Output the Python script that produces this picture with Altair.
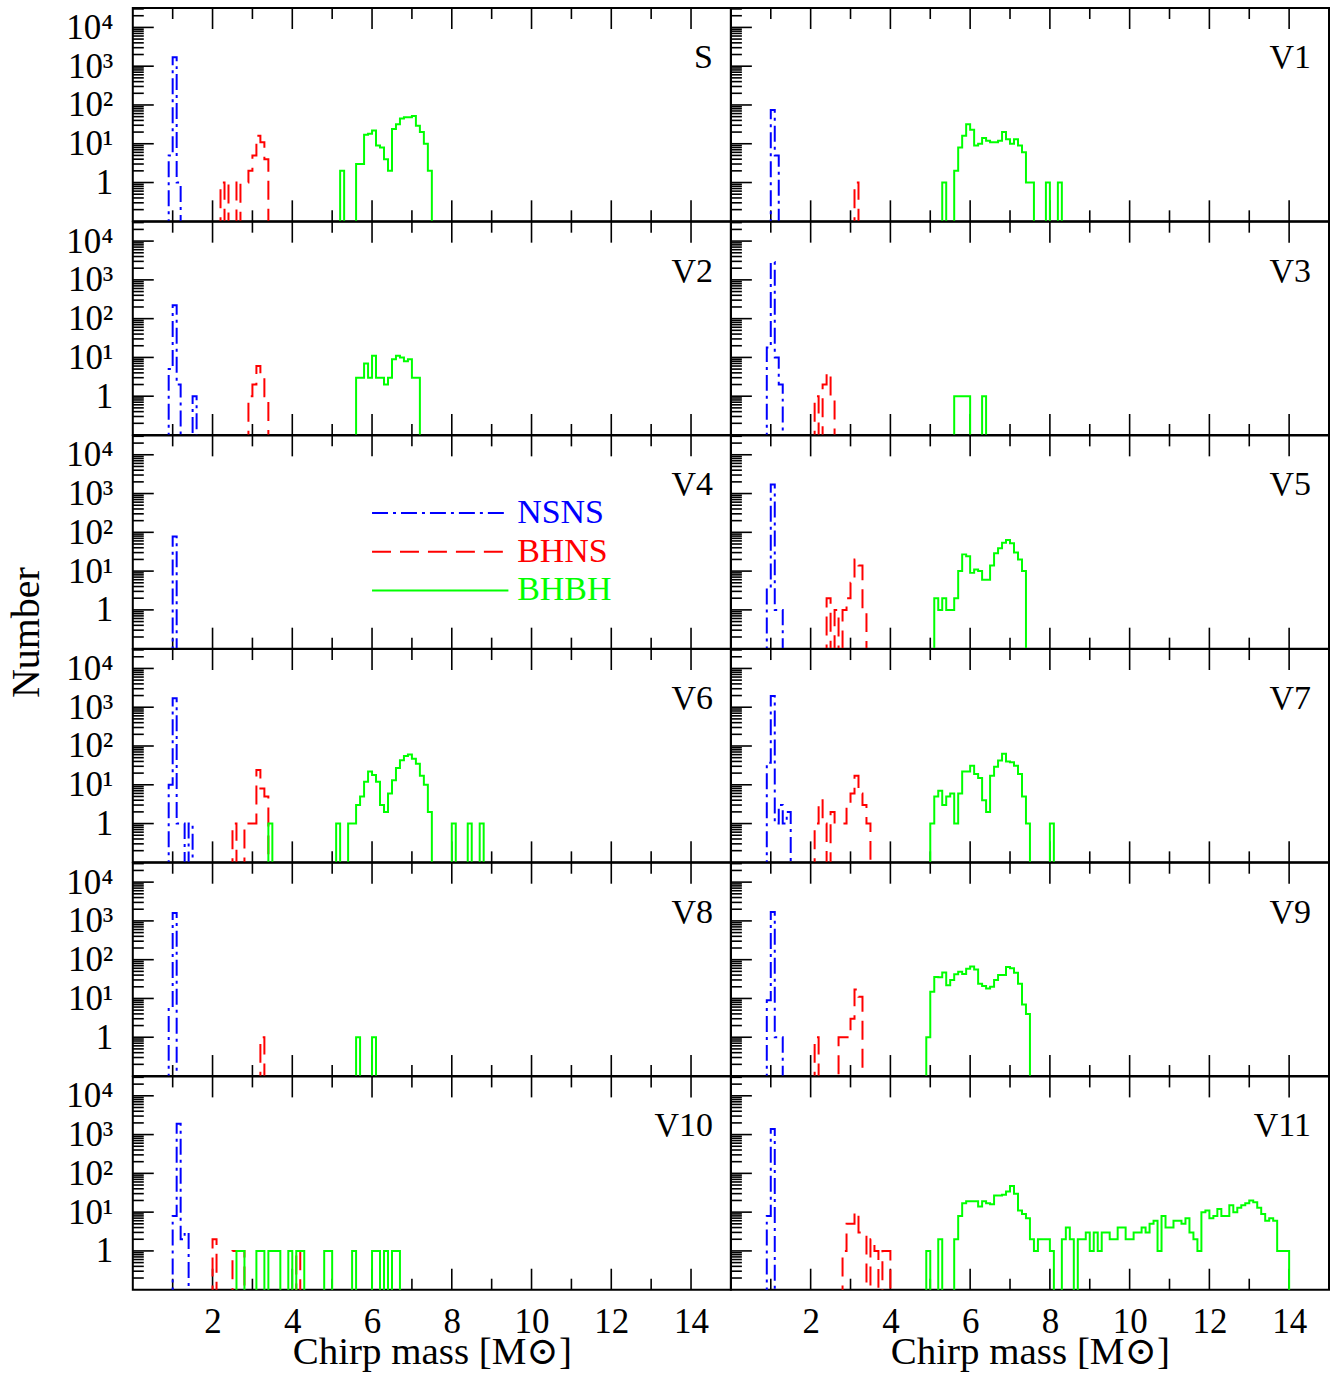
import altair as alt
import pandas as pd

# ---------------- data (bin width 0.1 Msun; each entry = (left edge of first bin, counts)) ----------------
PANELS = ["S", "V1", "V2", "V3", "V4", "V5", "V6", "V7", "V8", "V9", "V10", "V11"]
TYPES = ["NSNS", "BHNS", "BHBH"]
COLORS = ["#0000ff", "#ff0000", "#00ff00"]

S_NSNS = [(0.9, [5, 1700, 1])]
S_BHNS = [(2.2, [1, 0, 1, 1, 0, 1, 1, 2, 5, 16, 11, 4])]
S_BHBH = [(5.2, [2]), (5.6, [3, 3, 17, 18, 22, 9, 8, 4, 2, 24, 32, 45, 48, 48, 52, 29, 20, 10, 2])]

V1_NSNS = [(1.0, [74, 5])]
V1_BHNS = [(3.1, [1])]
V1_BHBH = [(5.3, [1]), (5.6, [2, 8, 16, 32, 23, 9, 10, 14, 12, 11, 11, 12, 20, 13, 10, 13, 9, 6, 1, 1]),
           (7.9, [1]), (8.2, [1])]

V2_NSNS = [(0.9, [5, 220, 2]), (1.5, [1])]
V2_BHNS = [(2.9, [1, 2, 6, 3, 1])]
V2_BHBH = [(5.6, [3, 3, 7, 3, 11, 3, 3, 2, 3, 9, 11, 10, 8, 9, 3, 3])]

V3_NSNS = [(0.9, [18, 2900, 10, 2])]
V3_BHNS = [(2.1, [1, 0, 2, 4, 1])]
V3_BHBH = [(5.6, [1, 1, 1, 1]), (6.3, [1])]

V4_NSNS = [(1.0, [78])]
V4_BHNS = []
V4_BHBH = []

V5_NSNS = [(0.9, [4, 1700, 1, 1])]
V5_BHNS = [(2.4, [2, 0, 1, 0, 1, 2, 5, 20, 14, 1])]
V5_BHBH = [(5.1, [2, 1, 2, 1, 1, 2, 10, 27, 24, 9, 11, 10, 6, 6, 14, 29, 39, 54, 63, 52, 30, 20, 10])]

V6_NSNS = [(0.9, [10, 1700, 1, 1, 0, 1])]
V6_BHNS = [(2.5, [1, 0, 0, 1, 1, 1, 24, 8, 5])]
V6_BHBH = [(3.4, [1]), (5.1, [1]),
           (5.4, [1, 1, 3, 5, 12, 22, 18, 12, 3, 2, 6, 13, 27, 43, 55, 60, 47, 35, 17, 10, 2]),
           (8.0, [1]), (8.4, [1]), (8.7, [1])]

V7_NSNS = [(0.9, [37, 1950, 1, 3, 1, 2])]
V7_BHNS = [(2.1, [1, 4, 1, 0, 2, 1, 1, 1, 3, 6, 17, 6, 3, 1])]
V7_BHBH = [(5.0, [1, 5, 7, 3, 5, 6, 1, 6, 22, 22, 31, 19, 15, 4, 2, 17, 29, 42, 63, 40, 38, 31, 19, 5, 1]),
           (8.0, [1])]

V8_NSNS = [(0.9, [6, 1600])]
V8_BHNS = [(3.2, [1])]
V8_BHBH = [(5.6, [1]), (6.0, [1])]

V9_NSNS = [(0.9, [9, 1700, 1, 1])]
V9_BHNS = [(2.1, [1]), (2.7, [1, 1, 1, 3, 17, 11])]
V9_BHBH = [(4.9, [1, 15, 36, 35, 47, 22, 30, 42, 49, 43, 58, 67, 56, 24, 21, 18, 20, 30, 40, 40,
                  65, 60, 46, 24, 7, 4])]

V10_NSNS = [(1.0, [8, 1900, 2, 3])]
V10_BHNS = [(2.0, [2]), (2.5, [1, 1, 1]), (4.1, [1])]
V10_BHBH = [(2.6, [1, 1]), (3.1, [1, 1]), (3.4, [1, 1, 1]), (3.9, [1]), (4.1, [1, 1]), (4.8, [1, 1]),
            (5.5, [1]), (6.0, [1, 1, 0, 1, 0, 1, 1])]

V11_NSNS = [(0.9, [8, 1400])]
V11_BHNS = [(2.8, [1, 5, 5, 10, 3, 3, 0, 2, 1, 0, 1, 1])]
V11_BHBH = [(4.9, [1]), (5.2, [2]),
            (5.6, [2, 8, 17, 19, 19, 19, 14, 19, 17, 16, 27, 27, 28, 34, 47, 30, 11, 9, 7, 2, 1, 2, 2, 2, 1]),
            (8.3, [2, 4, 2, 0, 2, 2, 3, 1, 3, 1, 3, 3, 2, 2, 4, 4, 2, 2, 3, 3, 4, 3, 5, 6, 1, 8, 4, 4, 6, 6,
                   5, 7, 3, 2, 1, 10, 11, 7, 8, 12, 8, 8, 15, 10, 13, 15, 17, 20, 18, 13, 9, 6, 7, 6, 1, 1, 1])]

SERIES = {
    "S": (S_NSNS, S_BHNS, S_BHBH), "V1": (V1_NSNS, V1_BHNS, V1_BHBH),
    "V2": (V2_NSNS, V2_BHNS, V2_BHBH), "V3": (V3_NSNS, V3_BHNS, V3_BHBH),
    "V4": (V4_NSNS, V4_BHNS, V4_BHBH), "V5": (V5_NSNS, V5_BHNS, V5_BHBH),
    "V6": (V6_NSNS, V6_BHNS, V6_BHBH), "V7": (V7_NSNS, V7_BHNS, V7_BHBH),
    "V8": (V8_NSNS, V8_BHNS, V8_BHBH), "V9": (V9_NSNS, V9_BHNS, V9_BHBH),
    "V10": (V10_NSNS, V10_BHNS, V10_BHBH), "V11": (V11_NSNS, V11_BHNS, V11_BHBH),
}

# axis tick values
X_MAJOR = [2, 4, 6, 8, 10, 12, 14]
X_MINOR = [1, 3, 5, 7, 9, 11, 13]
Y_MAJOR = [1, 10, 100, 1000, 10000]
Y_MINOR = [0.2, 0.3, 0.4, 0.5, 0.6, 0.7, 0.8, 0.9,
           2, 3, 4, 5, 6, 7, 8, 9,
           20, 30, 40, 50, 60, 70, 80, 90,
           200, 300, 400, 500, 600, 700, 800, 900,
           2000, 3000, 4000, 5000, 6000, 7000, 8000, 9000,
           20000, 30000]

# ---------------- styling ----------------
FONT = "Liberation Serif, DejaVu Serif"
W, H = 599, 213.6
MAJ, MIN = 21, 11
DASHES = [[16, 5, 3, 5], [19, 9], [1, 0]]

xs = alt.Scale(domain=[0, 15], nice=False, zero=False)
ys = alt.Scale(type="log", domain=[0.1, 31622.78], nice=False)
cscale = alt.Scale(domain=TYPES, range=COLORS)
dscale = alt.Scale(domain=TYPES, range=DASHES)

YLABEL = ("datum.value == 1 ? '1' : datum.value == 10 ? '10\u00b9' : datum.value == 100 ? '10\u00b2' : "
          "datum.value == 1000 ? '10\u00b3' : '10\u2074'")


def series_rows(typ, segments):
    bins = {}
    for start, counts in segments:
        k = int(round(start * 10))
        for i, c in enumerate(counts):
            bins[k + i] = c
    if not bins:
        return []
    k0, k1 = min(bins), max(bins)
    rows = [dict(type=typ, x=(k0 - 1) / 10, n=0)]
    for k in range(k0, k1 + 1):
        rows.append(dict(type=typ, x=k / 10, n=bins.get(k, 0)))
    rows.append(dict(type=typ, x=(k1 + 1) / 10, n=0))
    return rows


def panel_chart(i, name):
    left = i % 2 == 0
    bottom = i // 2 == 5

    if bottom:
        xaxis = alt.Axis(values=X_MAJOR, ticks=False, domain=False, grid=False, labelFont=FONT,
                         labelFontSize=35, labelPadding=15, labelColor="black", labelFlush=False,
                         title="Chirp mass [M\u2299]", titleFont=FONT, titleFontSize=39,
                         titleFontWeight="normal", titleColor="black", titlePadding=-7)
    else:
        xaxis = None
    if left:
        if name == "V4":
            yaxis = alt.Axis(values=Y_MAJOR, labelExpr=YLABEL, ticks=False, domain=False, grid=False,
                             labelFont=FONT, labelFontSize=35, labelPadding=20, labelColor="black",
                             labelOverlap=False, title="Number", titleFont=FONT, titleFontSize=40,
                             titleFontWeight="normal", titleColor="black", titleAngle=270,
                             titleX=-106, titleY=197, titleBaseline="middle", titleAlign="center")
        else:
            yaxis = alt.Axis(values=Y_MAJOR, labelExpr=YLABEL, ticks=False, domain=False, grid=False,
                             labelFont=FONT, labelFontSize=35, labelPadding=20, labelColor="black",
                             labelOverlap=False, title=None)
    else:
        yaxis = None

    def X(f):
        return alt.X(f, type="quantitative", scale=xs, axis=xaxis)

    def Y(f):
        return alt.Y(f, type="quantitative", scale=ys, axis=yaxis)

    layers = []
    # tick marks: top, bottom and left sides, pointing inward
    for vals, ln in ((X_MAJOR, MAJ), (X_MINOR, MIN)):
        d = pd.DataFrame({"v": vals})
        layers.append(alt.Chart(d).mark_rule(color="black", strokeWidth=1.6).encode(
            x=X("v"), y=alt.value(0), y2=alt.value(ln)))
        layers.append(alt.Chart(d).mark_rule(color="black", strokeWidth=1.6).encode(
            x=X("v"), y=alt.value(H - ln), y2=alt.value(H)))
    for vals, ln in ((Y_MAJOR, MAJ), (Y_MINOR, MIN)):
        d = pd.DataFrame({"v": vals})
        layers.append(alt.Chart(d).mark_rule(color="black", strokeWidth=1.6).encode(
            y=Y("v"), x=alt.value(0), x2=alt.value(ln)))

    rows = []
    for typ, seg in zip(TYPES, SERIES[name]):
        rows += series_rows(typ, seg)
    df = pd.DataFrame(rows)
    layers.append(
        alt.Chart(df).transform_calculate(y="datum.n > 0 ? datum.n : 0.01")
        .mark_line(interpolate="step-after", strokeWidth=2, clip=True)
        .encode(x=X("x"), y=Y("y"),
                color=alt.Color("type:N", scale=cscale, legend=None),
                strokeDash=alt.StrokeDash("type:N", scale=dscale, legend=None))
    )

    if name == "V4":
        leg = pd.DataFrame({"type": TYPES, "ly": [316.2, 31.62, 3.162],
                            "x1": [6.0, 6.0, 6.0], "x2": [9.42, 9.42, 9.42], "xt": [9.64, 9.64, 9.64]})
        layers.append(alt.Chart(leg).mark_rule(strokeWidth=2).encode(
            x=X("x1"), x2="x2", y=Y("ly"),
            color=alt.Color("type:N", scale=cscale, legend=None),
            strokeDash=alt.StrokeDash("type:N", scale=dscale, legend=None)))
        layers.append(alt.Chart(leg).mark_text(align="left", baseline="middle", font=FONT, fontSize=34).encode(
            x=X("xt"), y=Y("ly"), text="type:N",
            color=alt.Color("type:N", scale=cscale, legend=None)))

    lab = pd.DataFrame({"label": [name]})
    layers.append(alt.Chart(lab).mark_text(align="right", baseline="alphabetic", font=FONT,
                                           fontSize=34, color="black").encode(
        x=alt.value(W - 18), y=alt.value(60), text="label:N"))

    return alt.layer(*layers).properties(width=W, height=H)


charts = [panel_chart(i, p) for i, p in enumerate(PANELS)]

chart = (
    alt.concat(*charts, columns=2, spacing=0, align="each", bounds="flush")
    .resolve_scale(x="independent", y="independent", color="independent", strokeDash="independent")
    .resolve_axis(x="independent", y="independent")
    .properties(padding={"left": 6, "top": 5, "right": 0, "bottom": 0}, background="white")
    .configure_view(stroke="black", strokeWidth=2)
)

chart.save("out.html", embed_options={"renderer": "svg", "actions": False})
